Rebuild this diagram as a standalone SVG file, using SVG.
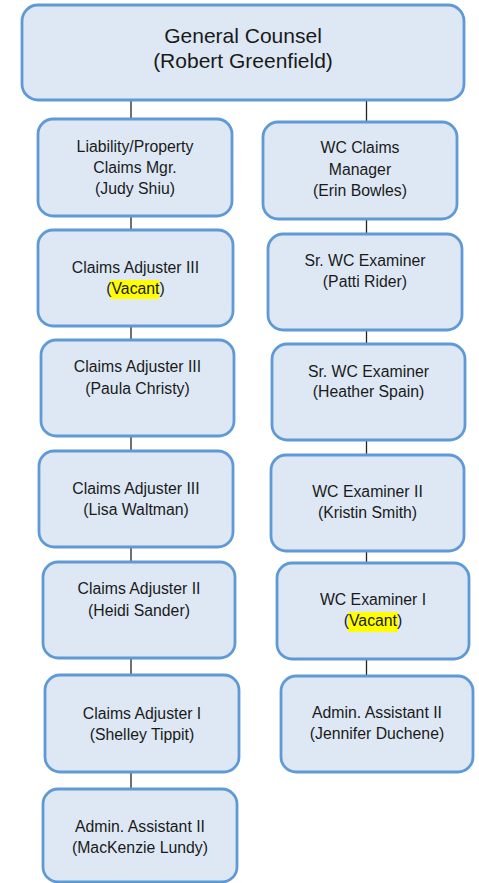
<svg xmlns="http://www.w3.org/2000/svg" width="479" height="883" viewBox="0 0 479 883">
<style>
.box{fill:#dde8f4;stroke:#5f9ad6;stroke-width:2.8}
.t{font-family:"Liberation Sans",Arial,sans-serif;font-size:15.8px;fill:#1a1a1a;text-anchor:middle}
.title{font-size:21px}
.hl{fill:#ffff00}
.conn line{stroke:#222;stroke-width:1.3}
</style>
<rect width="479" height="883" fill="#ffffff"/>
<g class="conn" id="connectors">
<line x1="131" y1="100" x2="131" y2="119"/>
<line x1="131" y1="216" x2="131" y2="230"/>
<line x1="131" y1="326" x2="131" y2="340"/>
<line x1="131" y1="436" x2="131" y2="451"/>
<line x1="131" y1="547" x2="131" y2="562"/>
<line x1="131" y1="658" x2="131" y2="675"/>
<line x1="131" y1="772" x2="131" y2="789"/>
<line x1="366.5" y1="100" x2="366.5" y2="122"/>
<line x1="366.5" y1="219" x2="366.5" y2="234"/>
<line x1="366.5" y1="330" x2="366.5" y2="344"/>
<line x1="366.5" y1="440" x2="366.5" y2="455"/>
<line x1="366.5" y1="551" x2="366.5" y2="563"/>
<line x1="366.5" y1="659" x2="366.5" y2="676"/>
</g>
<g id="general-counsel">
<rect class="box" x="22" y="5" width="442" height="95" rx="16"/>
<text class="t title" x="243" y="43">General Counsel</text>
<text class="t title" x="243" y="68">(Robert Greenfield)</text>
</g>
<g id="liability-mgr">
<rect class="box" x="38" y="119" width="194" height="97" rx="15"/>
<text class="t" x="135" y="152">Liability/Property</text>
<text class="t" x="135" y="173">Claims Mgr.</text>
<text class="t" x="135" y="194">(Judy Shiu)</text>
</g>
<g id="adjuster3-vacant">
<rect class="box" x="38" y="230" width="195" height="96" rx="15"/>
<rect class="hl" x="110" y="280" width="49" height="19"/>
<text class="t" x="135.5" y="273">Claims Adjuster III</text>
<text class="t" x="135.5" y="294">(Vacant)</text>
</g>
<g id="adjuster3-paula">
<rect class="box" x="41" y="340" width="193" height="96" rx="15"/>
<text class="t" x="137.5" y="372">Claims Adjuster III</text>
<text class="t" x="137.5" y="394">(Paula Christy)</text>
</g>
<g id="adjuster3-lisa">
<rect class="box" x="39" y="451" width="194" height="96" rx="15"/>
<text class="t" x="136" y="494">Claims Adjuster III</text>
<text class="t" x="136" y="515">(Lisa Waltman)</text>
</g>
<g id="adjuster2-heidi">
<rect class="box" x="43" y="562" width="192" height="96" rx="15"/>
<text class="t" x="139" y="594">Claims Adjuster II</text>
<text class="t" x="139" y="616">(Heidi Sander)</text>
</g>
<g id="adjuster1-shelley">
<rect class="box" x="45" y="675" width="194" height="97" rx="15"/>
<text class="t" x="142" y="719">Claims Adjuster I</text>
<text class="t" x="142" y="740">(Shelley Tippit)</text>
</g>
<g id="admin-mackenzie">
<rect class="box" x="43" y="789" width="194" height="93" rx="15"/>
<text class="t" x="140" y="832">Admin. Assistant II</text>
<text class="t" x="140" y="853">(MacKenzie Lundy)</text>
</g>
<g id="wc-manager">
<rect class="box" x="263" y="122" width="194" height="97" rx="15"/>
<text class="t" x="360" y="153">WC Claims</text>
<text class="t" x="360" y="175">Manager</text>
<text class="t" x="360" y="196">(Erin Bowles)</text>
</g>
<g id="sr-wc-patti">
<rect class="box" x="268" y="234" width="194" height="96" rx="15"/>
<text class="t" x="365" y="266">Sr. WC Examiner</text>
<text class="t" x="365" y="287">(Patti Rider)</text>
</g>
<g id="sr-wc-heather">
<rect class="box" x="272" y="344" width="193" height="96" rx="15"/>
<text class="t" x="368.5" y="377">Sr. WC Examiner</text>
<text class="t" x="368.5" y="397">(Heather Spain)</text>
</g>
<g id="wc2-kristin">
<rect class="box" x="271" y="455" width="193" height="96" rx="15"/>
<text class="t" x="367.5" y="497">WC Examiner II</text>
<text class="t" x="367.5" y="518">(Kristin Smith)</text>
</g>
<g id="wc1-vacant">
<rect class="box" x="277" y="563" width="192" height="96" rx="15"/>
<rect class="hl" x="348" y="612" width="50" height="20"/>
<text class="t" x="373" y="605">WC Examiner I</text>
<text class="t" x="373" y="626">(Vacant)</text>
</g>
<g id="admin-jennifer">
<rect class="box" x="281" y="676" width="192" height="96" rx="15"/>
<text class="t" x="377" y="718">Admin. Assistant II</text>
<text class="t" x="377" y="739">(Jennifer Duchene)</text>
</g>
</svg>
